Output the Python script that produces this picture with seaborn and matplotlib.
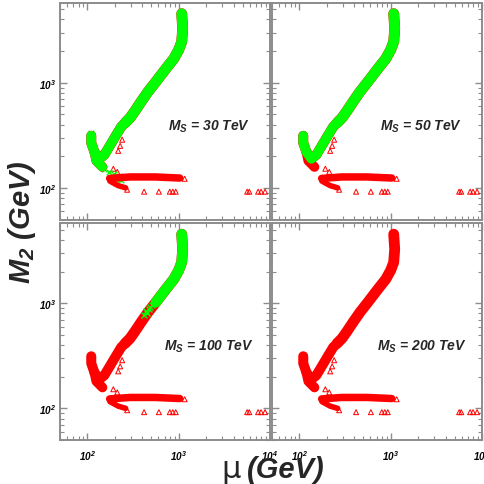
import numpy as np
import matplotlib
matplotlib.use('Agg')
import matplotlib.pyplot as plt
import matplotlib.ticker as mticker
import seaborn as sns

# upper part of the allowed band (centre line, mu vs M2 in GeV)
band_up_mu = [1078, 1105, 1078, 1000, 883, 722, 562, 460, 386, 332, 293, 259]
band_up_m2 = [4540, 3266, 2455, 2061, 1694, 1359, 1023, 820, 659, 541, 464, 416]
# lower part down to the hook
band_lo_mu = [259, 234, 201, 173, 153, 135, 119, 110, 110]
band_lo_m2 = [416, 381, 306, 246, 206, 189, 220, 268, 313]
# lower lobe of the hook
hook_mu = [119, 125, 146]
hook_m2 = [220, 181, 158]
# horizontal shelf near M2 ~ 120 GeV
shelf_mu = [175, 293, 548, 1025]
shelf_m2 = [123, 127, 127, 124]
tail_mu = [176, 217, 262]
tail_m2 = [116, 105, 100]

# isolated triangle points
tri_mu = [417, 606, 798, 861, 927, 5620, 5920, 7410, 7980, 8830, 1161, 272]
tri_m2 = [92, 92, 92, 92, 92, 92, 92, 92, 92, 92, 122, 96]
# triangles along the edge of the lower band
edge_mu = [217, 228, 240, 192, 212]
edge_m2 = [225, 251, 287, 152, 142]

# green crosses spilling over the shelf (M_S = 30 TeV)
cross_mu = [153, 173, 196, 223, 187, 234, 259, 207, 108, 112]
cross_m2 = [152, 142, 136, 130, 122, 119, 127, 112, 330, 318]
# green crosses in the mixed region (M_S = 100 TeV)
mix_mu = [484, 438, 417, 509, 470, 450]
mix_m2 = [916, 839, 769, 957, 880, 800]

ms_labels = ['30', '50', '100', '200']
green_floor = [0, 185, 1000, 1e9]

GREEN = '#00ff00'
RED = '#ff0000'
FRAME = '#8c8c8c'

sns.set_theme(style='ticks')
plt.rcParams['font.family'] = ['Liberation Sans', 'DejaVu Sans']
plt.rcParams['font.style'] = 'italic'
plt.rcParams['font.weight'] = 'bold'
plt.rcParams['mathtext.default'] = 'regular'


def draw_line(ax, xs, ys, color, lw):
    sns.lineplot(x=xs, y=ys, sort=False, estimator=None, color=color, lw=lw,
                 solid_capstyle='round', solid_joinstyle='round', ax=ax)


def keep_above(xs, ys, floor):
    pts = [(x, y) for x, y in zip(xs, ys) if y >= floor]
    return [p[0] for p in pts], [p[1] for p in pts]


fig = plt.figure(figsize=(4.85, 4.85), dpi=100)
W, H = 210 / 485, 217 / 485
positions = [(60 / 485, 1 - 220.5 / 485), (272 / 485, 1 - 220.5 / 485),
             (60 / 485, 1 - 441 / 485), (272 / 485, 1 - 441 / 485)]
text_x = [0.512, 0.512, 0.493, 0.498]

for i, (x0, y0) in enumerate(positions):
    ax = fig.add_axes([x0, y0, W, H])
    ax.set_xscale('log')
    ax.set_yscale('log')

    # everything red first
    draw_line(ax, band_up_mu, band_up_m2, RED, 7.8)
    draw_line(ax, band_lo_mu, band_lo_m2, RED, 7.2)
    draw_line(ax, hook_mu, hook_m2, RED, 7.0)
    draw_line(ax, shelf_mu, shelf_m2, RED, 5.4)
    draw_line(ax, tail_mu, tail_m2, RED, 4.0)
    sns.scatterplot(x=edge_mu, y=edge_m2, marker='^', s=13, facecolors='none',
                    edgecolors=RED, linewidth=0.7, ax=ax)

    # green part of the band depending on M_S
    gx, gy = keep_above(band_up_mu, band_up_m2, green_floor[i])
    if len(gx) > 1:
        draw_line(ax, gx, gy, GREEN, 7.6)
    gx, gy = keep_above(band_lo_mu, band_lo_m2, green_floor[i])
    if len(gx) > 1:
        draw_line(ax, gx, gy, GREEN, 7.0)
    if i == 0:
        draw_line(ax, hook_mu, hook_m2, GREEN, 6.8)
        sns.scatterplot(x=cross_mu, y=cross_m2, marker='x', s=16, color=GREEN,
                        linewidth=1.0, ax=ax)
    if i == 2:
        sns.scatterplot(x=mix_mu, y=mix_m2, marker='x', s=18, color=GREEN,
                        linewidth=1.0, ax=ax, zorder=4)

    sns.scatterplot(x=tri_mu, y=tri_m2, marker='^', s=13, facecolors='none',
                    edgecolors=RED, linewidth=0.7, ax=ax)

    ax.set_xlim(50, 10000)
    ax.set_ylim(50, 5800)
    ax.xaxis.set_major_locator(mticker.FixedLocator([100, 1000, 10000]))
    ax.xaxis.set_major_formatter(mticker.FixedFormatter(['10$^{2}$', '10$^{3}$', '10$^{4}$']))
    ax.yaxis.set_major_locator(mticker.FixedLocator([100, 1000]))
    ax.yaxis.set_major_formatter(mticker.FixedFormatter(['10$^{2}$', '10$^{3}$']))
    ax.xaxis.set_minor_locator(mticker.LogLocator(subs=np.arange(2, 10)))
    ax.yaxis.set_minor_locator(mticker.LogLocator(subs=np.arange(2, 10)))
    ax.xaxis.set_minor_formatter(mticker.NullFormatter())
    ax.yaxis.set_minor_formatter(mticker.NullFormatter())
    ax.tick_params(which='both', direction='in', top=True, right=True,
                   colors=FRAME, labelcolor='black', labelsize=7.2)
    ax.tick_params(which='major', length=5, width=1.0)
    ax.tick_params(which='minor', length=2.8, width=0.8)
    ax.tick_params(axis='x', pad=6)
    ax.tick_params(axis='y', pad=3)
    if i < 2:
        ax.tick_params(axis='x', labelbottom=False)
    if i % 2 == 1:
        ax.tick_params(axis='y', labelleft=False)
    for sp in ax.spines.values():
        sp.set_color(FRAME)
        sp.set_linewidth(1.4)
    ax.set_xlabel('')
    ax.set_ylabel('')

    ax.text(text_x[i], 0.432, 'M$_S$ = ' + ms_labels[i] + ' TeV', transform=ax.transAxes,
            fontsize=10, va='center', ha='left', zorder=5)

# x axis title: upright mu followed by bold italic (GeV)
fig.text(231 / 485, 0.003, '\u03bc', fontsize=22, ha='center', va='bottom',
         family='DejaVu Sans', style='normal', weight='normal')
fig.text(247 / 485, 0.003, '(GeV)', fontsize=21, ha='left', va='bottom')
fig.text(0.012, 1 - 222 / 485, 'M$_2$ (GeV)', fontsize=21, rotation=90,
         ha='left', va='center')

fig.savefig('out.png', dpi=100)
